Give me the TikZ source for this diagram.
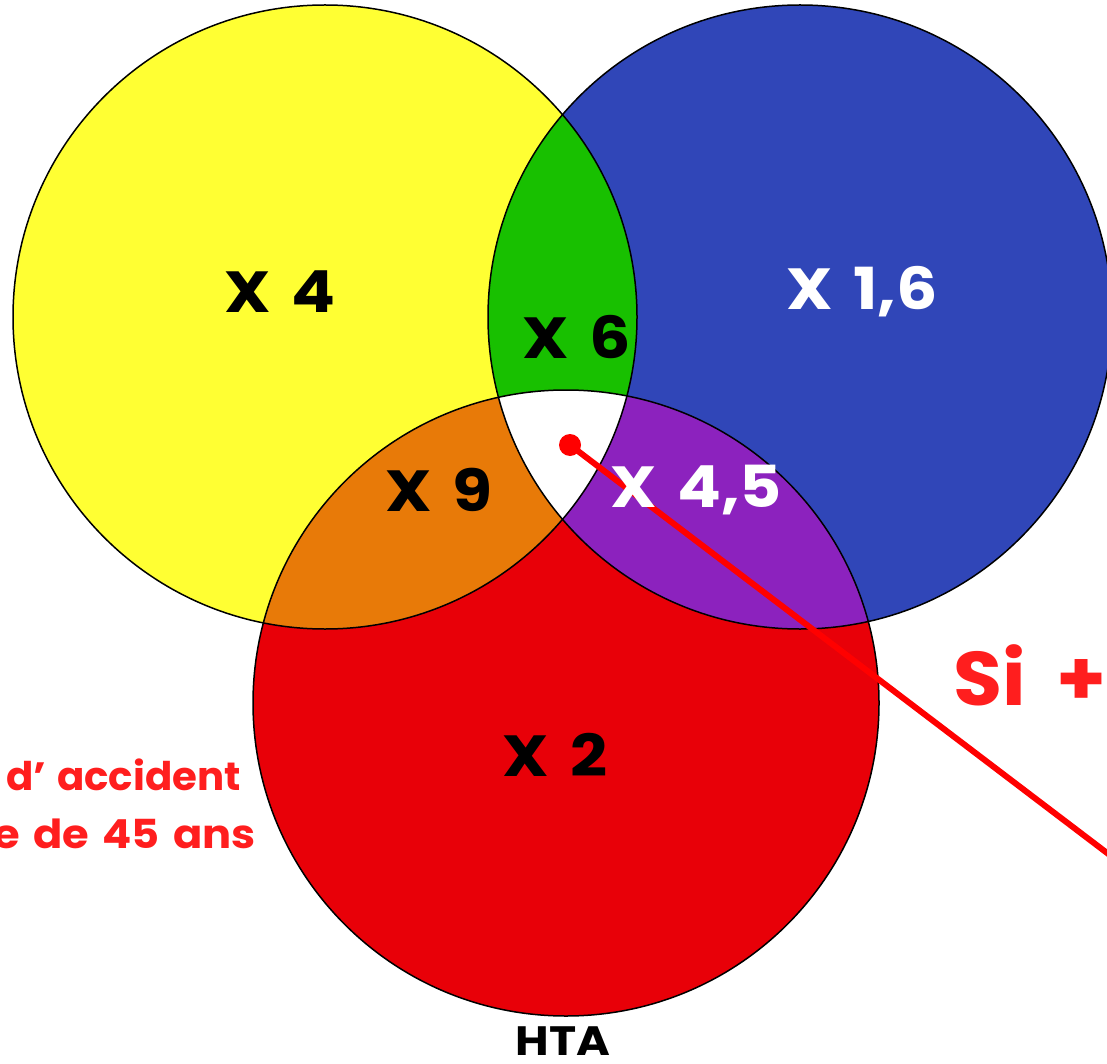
\documentclass[tikz,border=0pt]{standalone}
\usepackage{fontspec}
\setmainfont{Poppins}
\newfontfamily\labfont{Poppins}[FakeStretch=1.12, WordSpace=1.5]
\newfontfamily\sidefonta{Poppins}[FakeStretch=1.02, WordSpace=1.3]
\newfontfamily\sidefontb{Poppins}[FakeStretch=1.08, WordSpace=1.45]
\newfontfamily\sifont{Poppins}[FakeStretch=1.05, WordSpace=1.8]
\definecolor{ycol}{RGB}{255,255,51}
\definecolor{bcol}{RGB}{48,70,184}
\definecolor{gcol}{RGB}{24,192,0}
\definecolor{ocol}{RGB}{232,122,8}
\definecolor{pcol}{RGB}{140,34,190}
\definecolor{rcol}{RGB}{232,0,8}
\definecolor{txtred}{RGB}{255,30,30}
\newcommand\ycirc{(325,317) circle[radius=312pt]}
\newcommand\bcirc{(800,317) circle[radius=312pt]}
\newcommand\rcirc{(566,703) circle[radius=313pt]}
\begin{document}
\begin{tikzpicture}[x=1pt,y=-1pt,
  lab/.style={font=\labfont\bfseries\fontsize{58}{62}\selectfont, inner sep=0pt},
  ring/.style={draw=black, line width=1.5pt}]
\clip (0,0) rectangle (1107,1064);
\fill[white] (0,0) rectangle (1107,1064);
% base discs and their overlaps
\fill[ycol] \ycirc;
\fill[bcol] \bcirc;
\begin{scope}
  \clip \ycirc;
  \fill[gcol] \bcirc;
\end{scope}
\fill[rcol] \rcirc;
\begin{scope}
  \clip \rcirc;
  \fill[ocol] \ycirc;
  \fill[pcol] \bcirc;
  \clip \ycirc;
  \fill[white] \bcirc;
\end{scope}
% outlines
\draw[ring] \ycirc;
\draw[ring] \bcirc;
\draw[ring] \rcirc;
% factors
\node[lab] (y) at (280,292) {X 4};
\node[lab] (g) at (577,337) {X 6};
\node[lab, text=white] (b) at (862,292) {X 1,6};
\node[lab] (o) at (439,490) {X 9};
\node[lab] (r) at (555,755) {X 2};
% pointer from the centre
\node[circle, fill=red, minimum size=22pt, inner sep=0pt] (dot) at (570,445) {};
\coordinate (tail) at (1140,878);
\draw[red, line width=6pt] (dot.center) -- (tail);
\node[lab, text=white] (p) at (696,490) {X 4,5};
% side texts
\node[font=\sifont\bfseries\fontsize{76}{80}\selectfont, text=txtred, anchor=base west, inner sep=0pt] (si) at (953,705) {Si +};
\node[font=\sidefonta\bfseries\fontsize{39.5}{44}\selectfont, text=txtred, anchor=base east, inner sep=0pt] (acc) at (241,790) {d’ accident};
\node[font=\sidefontb\bfseries\fontsize{40}{44}\selectfont, text=txtred, anchor=base east, inner sep=0pt] (age) at (256,848) {e de 45 ans};
\node[font=\labfont\bfseries\fontsize{41}{44}\selectfont, anchor=base, inner sep=0pt] (hta) at (563,1055) {HTA};
\end{tikzpicture}
\end{document}
